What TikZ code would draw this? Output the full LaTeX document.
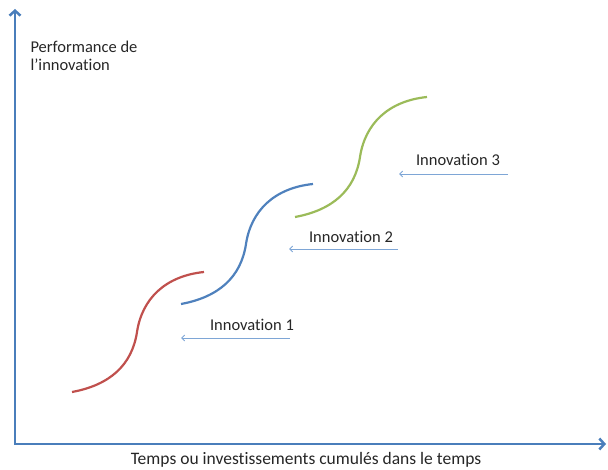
\documentclass[tikz,border=0pt]{standalone}
\usepackage{fontspec}
\setmainfont[Ligatures=NoCommon]{Carlito}
\usetikzlibrary{arrows.meta}
\definecolor{axisblue}{HTML}{4A7EBB}
\definecolor{redc}{HTML}{C0504D}
\definecolor{bluec}{HTML}{4F81BD}
\definecolor{greenc}{HTML}{9BBB59}
\definecolor{arrowc}{HTML}{7EA6D6}
\tikzset{
	axis/.style={line width=2.5pt, axisblue, {Straight Barb[length=5pt,width=11pt]}-{Straight Barb[length=5pt,width=11pt]}},
	scurve/.style={line width=2.2pt},
	shiftarrow/.style={arrowc, line width=0.9pt, -{Straight Barb[length=3pt,width=6pt]}},
	lbl/.style={font=\fontsize{16.5}{18}\selectfont, text=black!85}
}
\begin{document}
\begin{tikzpicture}[x=1pt,y=-1pt]
		\useasboundingbox (0,0) rectangle (608,470);
		\coordinate (o) at (15,444);
		\coordinate (ytop) at (15,9);
		\coordinate (xend) at (606,444);
		\draw[axis] (ytop) -- (o) -- (xend);
		\node[lbl, anchor=west, align=left] at (27,56) (a) {Performance de\\l’innovation};
		\node[lbl, font=\fontsize{17.5}{20}\selectfont] at (306,460) (b) {Temps ou investissements cumulés dans le temps};
		% s-curves
		\foreach \px/\py/\col in {72/392/redc, 181/304/bluec, 295/217/greenc}
			\draw[scurve, \col, shift={(\px,\py)}] (0,0) .. controls (38,-7) and (60,-27) .. (65,-60) .. controls (70,-93) and (93,-116) .. (132,-120);
		\node[lbl] at (252,325) (c) {Innovation 1};
		\node[lbl] at (351,237) (d) {Innovation 2};
		\node[lbl] at (458,160) (e) {Innovation 3};
		\coordinate (c1) at (290,338);
		\coordinate (c2) at (181,338);
		\coordinate (d1) at (398,249);
		\coordinate (d2) at (289,249);
		\coordinate (e1) at (508,174);
		\coordinate (e2) at (399,174);
		\draw[shiftarrow] (c1) -- (c2);
		\draw[shiftarrow] (d1) -- (d2);
		\draw[shiftarrow] (e1) -- (e2);
	\end{tikzpicture}
\end{document}
